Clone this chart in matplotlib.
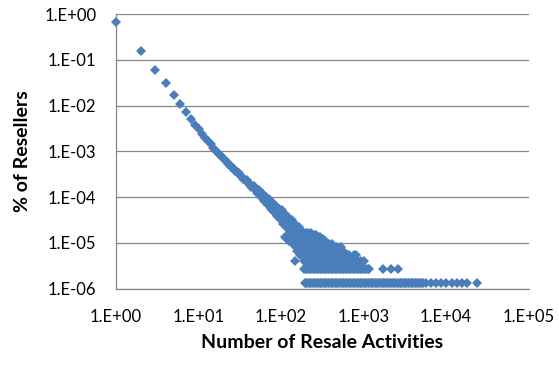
import matplotlib
matplotlib.use('Agg')
import matplotlib.pyplot as plt

# resellers share vs number of resale activities
head_x = [1, 2, 3, 4, 5, 6, 7, 8, 9, 10]
head_y = [0.68, 0.156, 0.060, 0.031, 0.017, 0.0107, 0.0072, 0.0051, 0.0037, 0.0030]

line_x = [11, 12, 13, 14, 15, 16, 17, 18, 19, 20, 21, 22, 23, 24, 25, 26, 27, 28, 29, 30,
          32, 34, 36, 38, 40, 42, 44, 46, 48, 50, 52, 55, 58, 61, 64, 67, 70, 73, 76, 80,
          84, 88, 92, 96, 100, 105, 110, 115, 120, 126, 132, 138, 145, 152, 160, 168, 176,
          185, 195, 205, 216, 228, 240]
line_y = [2.39e-3, 1.98e-3, 1.66e-3, 1.41e-3, 1.21e-3, 1.05e-3, 9.4e-4, 8.5e-4, 7.7e-4, 7.0e-4,
          6.4e-4, 5.9e-4, 5.4e-4, 5.0e-4, 4.65e-4, 4.33e-4, 4.04e-4, 3.78e-4, 3.56e-4, 3.37e-4,
          3.02e-4, 2.72e-4, 2.47e-4, 2.26e-4, 2.07e-4, 1.91e-4, 1.76e-4, 1.63e-4, 1.52e-4, 1.42e-4,
          1.33e-4, 1.21e-4, 1.11e-4, 1.00e-4, 9.2e-5, 8.4e-5, 7.7e-5, 7.2e-5, 6.6e-5, 6.0e-5,
          5.5e-5, 5.0e-5, 4.6e-5, 4.3e-5, 3.9e-5, 3.6e-5, 3.3e-5, 3.0e-5, 2.8e-5, 2.6e-5,
          2.37e-5, 2.19e-5, 2.0e-5, 1.84e-5, 1.68e-5, 1.54e-5, 1.41e-5,
          1.29e-5, 1.17e-5, 1.07e-5, 9.8e-6, 8.9e-6, 8.1e-6]

spread_x = [31, 35, 39, 43, 47, 51, 54, 57, 60, 63, 66, 69, 72, 75, 78, 82, 86, 90, 94, 98,
            102, 107, 112, 117, 123, 129, 135, 141, 148, 155, 163, 171, 180]
spread_y = [3.4e-4, 2.43e-4, 2.36e-4, 1.66e-4, 1.77e-4, 1.22e-4, 1.42e-4, 9.9e-5, 1.18e-4, 8.0e-5,
            1.02e-4, 6.8e-5, 8.9e-5, 5.6e-5, 7.6e-5, 4.7e-5, 6.4e-5, 3.9e-5, 5.6e-5, 3.3e-5,
            5.1e-5, 2.6e-5, 4.3e-5, 2.1e-5, 3.6e-5, 1.75e-5, 3.07e-5, 1.49e-5, 2.6e-5, 1.29e-5,
            2.19e-5, 1.10e-5, 1.83e-5]

# low counts: one row per reseller count
lvl_y = [1.35e-6, 2.7e-6, 4.05e-6, 5.4e-6, 6.75e-6, 8.1e-6, 9.45e-6, 1.08e-5, 1.215e-5,
         1.35e-5, 1.485e-5, 1.62e-5]
lvl1_x = [193, 200, 208, 216, 225, 234, 243, 252, 262, 272, 283, 294, 305, 317, 330, 343, 356,
          370, 385, 400, 415, 431, 448, 466, 484, 503, 523, 544, 565, 587, 610, 634, 658, 684,
          711, 739, 768, 798, 829, 861, 895, 930, 967, 1005, 1045, 1086, 1128, 1172, 1218, 1266,
          1316, 1368, 1421, 1477, 1535, 1595, 1658, 1723, 1790, 1860, 1933, 2009, 2088, 2170,
          2255, 2343, 2435, 2530, 2630, 2733, 2840, 2951, 3068, 3188, 3313, 3443, 3578, 3718,
          3865, 4016, 4174, 4338, 4508, 4685, 4868, 5060, 5258, 5700, 6600, 7600, 8800, 10100,
          11700, 13500, 15600, 18000, 24000]
lvl2_x = [192, 199, 207, 215, 224, 233, 242, 251, 261, 271, 282, 293, 305, 317, 329, 342, 355,
          369, 384, 399, 414, 430, 447, 465, 483, 502, 522, 542, 563, 585, 608, 632, 657, 683,
          709, 737, 766, 796, 827, 860, 893, 928, 964, 1002, 1041, 1082, 1124, 1180, 1740,
          2180, 2650]
lvl3_x = [149, 190, 197, 204, 212, 219, 228, 236, 245, 254, 263, 273, 283, 293, 304, 315, 327,
          339, 351, 364, 377, 391, 406, 421, 436, 452, 469, 486, 504, 523, 542, 562, 583, 604,
          627, 650, 674, 699, 725, 751, 779, 808, 838, 869, 940, 1000]
lvl4_x = [170, 183, 197, 212, 228, 245, 263, 283, 304, 327, 351, 378, 406, 436, 469, 505, 543,
          584, 628, 676, 776, 820]
lvl5_x = [158, 170, 183, 197, 212, 228, 245, 263, 283, 304, 327, 351, 378, 406, 436, 469, 505, 560]
lvl6_x = [150, 161, 173, 186, 200, 215, 231, 248, 267, 287, 308, 331, 356, 383, 412, 443, 476, 537]
lvl7_x = [140, 150, 161, 173, 186, 200, 215, 231, 248, 267, 287, 308, 331, 356, 383, 420]
lvl8_x = [125, 134, 144, 155, 166, 179, 192, 206, 222, 238, 256, 275, 296, 318, 345]
lvl9_x = [118, 127, 136, 146, 157, 169, 181, 195, 209, 225, 242, 260, 280, 301, 325]
lvl10_x = [112, 120, 129, 139, 149, 160, 172, 185, 199, 214, 230, 247, 265, 284, 300]
lvl11_x = [143, 154, 166, 178, 191, 205, 220, 237, 255, 262]
lvl12_x = [140, 150, 161, 173, 186, 200, 215, 232]

x_ticks = [1, 10, 100, 1000, 10000, 100000]
x_labels = ['1.E+00', '1.E+01', '1.E+02', '1.E+03', '1.E+04', '1.E+05']
y_ticks = [1e-6, 1e-5, 1e-4, 1e-3, 1e-2, 1e-1, 1]
y_labels = ['1.E-06', '1.E-05', '1.E-04', '1.E-03', '1.E-02', '1.E-01', '1.E+00']

blue = '#4A7EBB'
grey = '#868686'
plt.rcParams['font.family'] = ['Lato', 'DejaVu Sans']

fig = plt.figure(figsize=(5.59, 3.66), dpi=100)
ax = fig.add_axes([116 / 559, 1 - 288.5 / 366, 412.5 / 559, 274.4 / 366])

mk = dict(linestyle='none', marker='D', markersize=4.6, markeredgewidth=0,
          color=blue, clip_on=False, zorder=3)
ax.plot(head_x, head_y, **mk)
ax.plot(line_x, line_y, **mk)
ax.plot(spread_x, spread_y, **mk)
rows = [lvl1_x, lvl2_x, lvl3_x, lvl4_x, lvl5_x, lvl6_x, lvl7_x, lvl8_x, lvl9_x,
        lvl10_x, lvl11_x, lvl12_x]
for xs, yv in zip(rows, lvl_y):
    ax.plot(xs, [yv] * len(xs), **mk)

ax.set_xscale('log')
ax.set_yscale('log')
ax.set_xlim(1, 1e5)
ax.set_ylim(1e-6, 1)
ax.set_xticks(x_ticks)
ax.set_xticklabels(x_labels)
ax.set_yticks(y_ticks)
ax.set_yticklabels(y_labels)
ax.minorticks_off()
ax.tick_params(axis='x', length=0, pad=15, labelsize=12)
ax.tick_params(axis='y', length=0, pad=14, labelsize=12)

ax.grid(axis='y', color=grey, linewidth=0.9)
ax.set_axisbelow(True)
for s in ['top', 'right']:
    ax.spines[s].set_visible(False)
for s in ['left', 'bottom']:
    ax.spines[s].set_color(grey)
    ax.spines[s].set_linewidth(0.9)

ax.set_xlabel('Number of Resale Activities', fontsize=14, fontweight='bold')
ax.xaxis.set_label_coords(0.5, (288.5 - 348.3) / 274.4)
ax.xaxis.label.set_va('baseline')
ax.set_ylabel('% of Resellers', fontsize=14, fontweight='bold')
ax.yaxis.set_label_coords((28.3 - 116) / 412.5, 0.5)
ax.yaxis.label.set_va('baseline')

fig.savefig('out.png', dpi=100)
